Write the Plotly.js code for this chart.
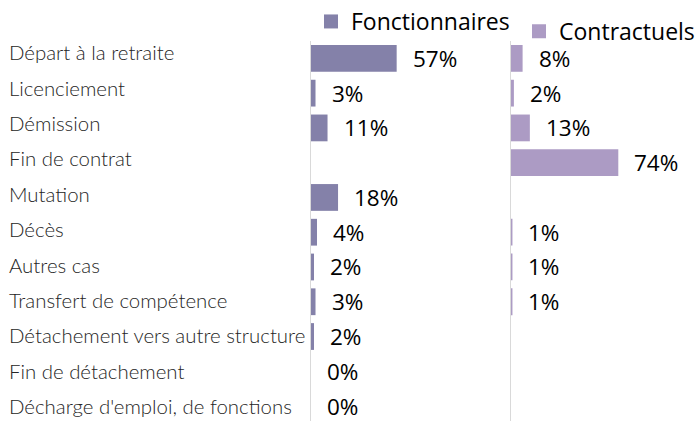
<!DOCTYPE html>
<html>
<head>
<meta charset="utf-8">
<script src="https://cdn.plot.ly/plotly-3.0.1.min.js"></script>
<style>
  body { margin: 0; background: #fff; }
  #chart { width: 700px; height: 421px; }
</style>
</head>
<body>
<div id="chart"></div>
<script>
// Motifs de départ
var motifs = [
  "Départ à la retraite",
  "Licenciement",
  "Démission",
  "Fin de contrat",
  "Mutation",
  "Décès",
  "Autres cas",
  "Transfert de compétence",
  "Détachement vers autre structure",
  "Fin de détachement",
  "Décharge d'emploi, de fonctions"
];
var fonctionnaires = [57, 3, 11, null, 18, 4, 2, 3, 2, 0, 0];
var contractuels = [8, 2, 13, 74, null, 1, 1, 1, null, null, null];

var colF = "#8481a9";
var colC = "#ac9bc4";

var data = [{
  type: "bar", orientation: "h",
  name: "Fonctionnaires",
  y: motifs, x: fonctionnaires,
  xaxis: "x", yaxis: "y",
  marker: { color: colF },
  showlegend: false,
  hoverinfo: "none"
}, {
  type: "bar", orientation: "h",
  name: "Contractuels",
  y: motifs, x: contractuels,
  xaxis: "x2", yaxis: "y2",
  marker: { color: colC },
  showlegend: false,
  hoverinfo: "none"
}, {
  // entrees de legende avec un carre plus grand
  type: "scatter", mode: "markers", name: "Fonctionnaires",
  x: [null], y: [null], xaxis: "x", yaxis: "y",
  marker: { symbol: "square", size: 14, color: colF },
  legend: "legend"
}, {
  type: "scatter", mode: "markers", name: "Contractuels",
  x: [null], y: [null], xaxis: "x2", yaxis: "y2",
  marker: { symbol: "square", size: 14, color: colC },
  legend: "legend2"
}];

// labels des valeurs et des categories
var annotations = [];
function addLabels(vals, xref, yref) {
  for (var k = 0; k < vals.length; k++) {
    if (vals[k] === null) continue;
    annotations.push({
      x: vals[k], y: motifs[k], xref: xref, yref: yref,
      text: vals[k] + "%", showarrow: false,
      xanchor: "left", xshift: 14, yshift: 0,
      font: { family: "Open Sans", size: 22.5, color: "#000" }
    });
  }
}
addLabels(fonctionnaires, "x", "y");
addLabels(contractuels, "x2", "y2");
motifs.forEach(function(m, k) {
  annotations.push({
    x: 7 / 700, y: m, xref: "paper", yref: "y",
    text: m, showarrow: false, xanchor: "left",
    yshift: 6 - 0.6 * k,
    font: { family: "Lato", size: 20.4, color: "#262626", weight: 300 }
  });
});

var legendFont = { family: "Open Sans", size: 23, color: "#000" };

var layout = {
  width: 700, height: 421,
  margin: { l: 0, r: 0, t: 39.5, b: 0 },
  paper_bgcolor: "#fff", plot_bgcolor: "#fff",
  bargap: 0.23,
  showlegend: true,
  xaxis: { domain: [311 / 700, 0.72], range: [0, 193 / 1.503], visible: false, fixedrange: true },
  xaxis2: { domain: [511 / 700, 1], range: [0, 189 / 1.45], visible: false, fixedrange: true },
  yaxis: {
    anchor: "x", type: "category", range: [10.43, -0.5],
    showticklabels: false, ticks: "", showgrid: false, zeroline: false,
    showline: true, linecolor: "#d9d9d9", linewidth: 1.5
  },
  yaxis2: {
    anchor: "x2", matches: "y", type: "category", range: [10.43, -0.5],
    showticklabels: false, ticks: "", showgrid: false, zeroline: false,
    showline: true, linecolor: "#d9d9d9", linewidth: 1.5
  },
  legend: {
    x: 311 / 700, y: 1.051, xanchor: "left", yanchor: "middle",
    font: legendFont, bgcolor: "rgba(0,0,0,0)"
  },
  legend2: {
    x: 519 / 700, y: 1.023, xanchor: "left", yanchor: "middle",
    font: legendFont, bgcolor: "rgba(0,0,0,0)"
  },
  annotations: annotations
};

Plotly.newPlot("chart", data, layout, { staticPlot: true });
</script>
</body>
</html>
